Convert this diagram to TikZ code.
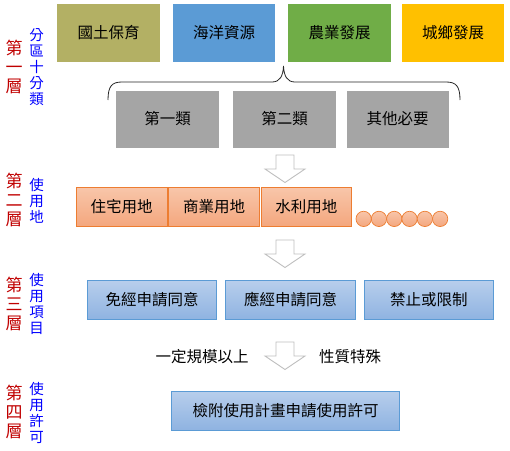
\documentclass[tikz,border=0pt]{standalone}
\usepackage{fontspec}
\setmainfont{Noto Sans CJK TC}
\usetikzlibrary{positioning}
\definecolor{olivezone}{HTML}{B3B064}
\definecolor{oceanzone}{HTML}{5B9BD5}
\definecolor{farmzone}{HTML}{70AD47}
\definecolor{townzone}{HTML}{FFC000}
\definecolor{classgray}{HTML}{A5A5A5}
\definecolor{landtop}{HTML}{F8C6AA}
\definecolor{landbottom}{HTML}{F4A77E}
\definecolor{landedge}{HTML}{ED7D31}
\definecolor{itemtop}{HTML}{B7CEEC}
\definecolor{itembottom}{HTML}{8FB3E1}
\definecolor{itemedge}{HTML}{5B9BD5}
\definecolor{tierred}{HTML}{C00000}
\definecolor{tierblue}{HTML}{0000FF}
\definecolor{arrowgray}{HTML}{BFBFBF}
\newcommand{\cellfont}{\fontsize{15.5}{18}\selectfont}
\tikzset{
box/.style={inner sep=0pt,outer sep=0pt,align=center,font=\cellfont},
zone/.style={box,minimum width=103.5pt,minimum height=59pt,draw=white,line width=.8pt},
kind/.style={box,minimum width=103.5pt,minimum height=58pt,fill=classgray,draw=white,line width=.6pt},
landuse/.style={box,minimum width=90.5pt,minimum height=39pt,draw=landedge,line width=.9pt,top color=landtop,bottom color=landbottom},
dot/.style={circle,inner sep=0pt,outer sep=0pt,minimum size=15.3pt,draw=landedge,line width=.7pt,top color=landtop,bottom color=landbottom},
item/.style={box,minimum width=129.3pt,minimum height=38.6pt,draw=itemedge,line width=.9pt,top color=itemtop,bottom color=itembottom},
tiername/.style={align=center,inner sep=0pt,text=tierred,font=\fontsize{17}{19}\selectfont},
tierdesc/.style={align=center,inner sep=0pt,text=tierblue,font=\fontsize{14.5}{16}\selectfont},
brace/.style={line width=.8pt,draw=black!85},
hollowdown/.pic={\draw[draw=arrowgray,fill=white,line width=.9pt]
  (-9,0) -- (9,0) -- (9,14) -- (20,14) -- (0,27.5) -- (-20,14) -- (-9,14) -- cycle;}
}
\begin{document}
\begin{tikzpicture}[x=1pt,y=-1pt]
\useasboundingbox (0,0) rectangle (510,450);
% tier names
\node[tiername] (t1) at (14,66.5) {第\\一\\層};
\node[tierdesc] (d1) at (36.5,67.5) {分\\區\\十\\分\\類};
\node[tiername] (t2) at (14,200) {第\\二\\層};
\node[tierdesc] (d2) at (36.5,200.5) {使\\用\\地};
\node[tiername] (t3) at (14,303.5) {第\\三\\層};
\node[tierdesc] (d3) at (36.5,304) {使\\用\\項\\目};
\node[tiername] (t4) at (14,411.5) {第\\四\\層};
\node[tierdesc] (d4) at (36.5,413) {使\\用\\許\\可};
% first tier: zones and classes
\node[zone,fill=olivezone] (conserve) at (108.5,32.5) {國土保育};
\node[zone,fill=oceanzone,right=12pt of conserve] (marine) {海洋資源};
\node[zone,fill=farmzone,right=12pt of marine] (agri) {農業發展};
\node[zone,fill=townzone,right=10pt of agri] (town) {城鄉發展};
\node[kind] (class1) at (167.5,119) {第一類};
\node[kind,right=13.5pt of class1] (class2) {第二類};
\node[kind,right=9.7pt of class2] (other) {其他必要};
\draw[brace] (108,100) .. controls (108,86) and (112,82) .. (122,82) -- (272,82)
  .. controls (280,82) and (283,76) .. (283.5,66)
  .. controls (284,76) and (287,82) .. (295,82) -- (446,82)
  .. controls (456,82) and (460,86) .. (460,100);
\pic at (285,155) {hollowdown};
% second tier: land use
\node[landuse] (house) at (121.7,206.6) {住宅用地};
\node[landuse,right=1.8pt of house] (trade) {商業用地};
\node[landuse,right=1.8pt of trade] (water) {水利用地};
\foreach \i in {0,...,5}
  \node[dot] (dot\i) at (363.65+\i*15.3,218.9) {};
\pic at (285,240) {hollowdown};
% third tier: use items
\node[item] (exempt) at (152,300) {免經申請同意};
\node[item,right=9.2pt of exempt] (apply) {應經申請同意};
\node[item,right=9pt of apply] (ban) {禁止或限制};
\pic at (285,342) {hollowdown};
\node[box] (scale) at (202,356.5) {一定規模以上};
\node[box] (special) at (350,356.5) {性質特殊};
% fourth tier: permit
\node[item,minimum width=227.6pt,minimum height=39pt] (permit) at (285.5,410.5) {檢附使用計畫申請使用許可};
\end{tikzpicture}
\end{document}
